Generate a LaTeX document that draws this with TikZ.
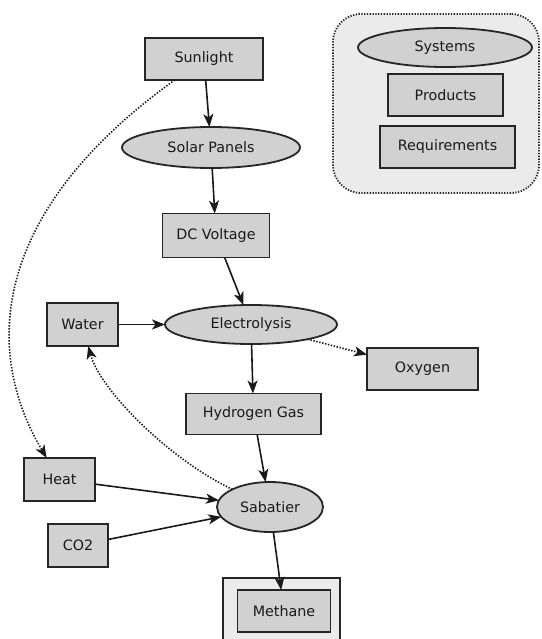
\documentclass[tikz,border=0pt]{standalone}
\usepackage{fontspec}
\setmainfont{DejaVu Sans}
\usetikzlibrary{shapes.geometric,arrows.meta}
\begin{document}
\begin{tikzpicture}[x=1pt,y=-1pt,
  every node/.style={font=\fontsize{14.3}{16}\selectfont, text=black!90, inner sep=0pt, outer sep=0pt},
  rbox/.style={draw=black!85, line width=1.8pt, fill=gray!36, rectangle},
  ebox/.style={draw=black!85, line width=1.8pt, fill=gray!36, ellipse},
  legendbox/.style={draw=black!85, line width=1.8pt, fill=gray!16, rounded corners=28pt, dash pattern=on 1.3pt off 1.5pt},
  outerbox/.style={draw=black!85, line width=1.8pt, fill=gray!16, rectangle},
  arr/.style={draw=black!90, line width=1.6pt, -{Stealth[length=13pt,width=10pt,inset=3.5pt]}},
  darr/.style={arr, dash pattern=on 1.4pt off 1.6pt}
]
\useasboundingbox (0,0) rectangle (541,639);
% legend
\node[legendbox, minimum width=206pt, minimum height=179pt] (legend) at (436,103.5) {};
\node[ebox, minimum width=174pt, minimum height=39pt] (sys) at (445,47.5) {Systems};
\node[rbox, minimum width=115pt, minimum height=42pt] (prod) at (445.5,95) {Products};
\node[rbox, minimum width=135pt, minimum height=42pt] (req) at (447.5,147) {Requirements};
% main nodes
\node[rbox, minimum width=118pt, minimum height=42pt] (sun) at (204,59) {Sunlight};
\node[ebox, minimum width=178pt, minimum height=41pt] (solar) at (211,147.5) {Solar Panels};
\node[rbox, minimum width=107pt, minimum height=44pt] (dc) at (216,235.5) {DC Voltage};
\node[rbox, minimum width=71pt, minimum height=43pt] (water) at (82.5,324.5) {Water};
\node[ebox, minimum width=172pt, minimum height=39pt] (elec) at (251,324.5) {Electrolysis};
\node[rbox, minimum width=111pt, minimum height=42pt] (oxy) at (422.5,369) {Oxygen};
\node[rbox, minimum width=135pt, minimum height=41pt] (hyd) at (253.5,414) {Hydrogen Gas};
\node[rbox, minimum width=71pt, minimum height=43pt] (heat) at (59.5,479.5) {Heat};
\node[rbox, minimum width=60pt, minimum height=43pt] (co2) at (78,545.5) {CO2};
\node[ebox, minimum width=106pt, minimum height=50pt] (sab) at (270,507) {Sabatier};
\node[outerbox, minimum width=117pt, minimum height=68pt] (methout) at (281.5,612) {};
\node[rbox, minimum width=93pt, minimum height=42pt] (meth) at (284,611) {Methane};
% connectors
\draw[arr] (sun) -- (solar);
\draw[arr] (solar) -- (dc);
\draw[arr] (dc) -- (elec);
\draw[arr] (water) -- (elec);
\draw[darr] (elec) -- (oxy);
\draw[arr] (elec) -- (hyd);
\draw[arr] (hyd) -- (sab);
\draw[arr] (heat) -- (sab);
\draw[arr] (co2) -- (sab);
\draw[arr] (sab) -- (meth);
\draw[darr] (sab) .. controls (170,460) and (100,390) .. (water);
\draw[darr] (sun) .. controls (-12,214) and (-16,353) .. (heat);
\end{tikzpicture}
\end{document}
